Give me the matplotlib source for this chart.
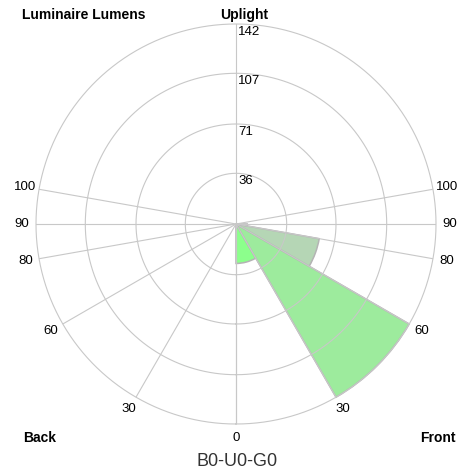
import numpy as np
import matplotlib
matplotlib.use("Agg")
import matplotlib.pyplot as plt

plt.rcParams["font.family"] = ["Liberation Sans", "DejaVu Sans"]

W, H = 463, 474
OUT = "out.png"

# BUG zones: (start deg, end deg) measured from nadir, front positive, back negative
zone_names = ["FL", "FM", "FH", "FVH", "BL", "BM", "BH", "BVH", "UL", "UH"]
zone_start = [0, 30, 60, 80, 0, -30, -60, -80, 90, 100]
zone_end = [30, 60, 80, 90, -30, -60, -80, -90, 100, 180]
zone_lumens = [28, 142, 60, 8, 0, 0, 0, 0, 0, 0]
zone_colors = ["#8cff8c", "#9deb9d", "#b5d6b5", "#b5d6b5",
               "#8cff8c", "#9deb9d", "#b5d6b5", "#b5d6b5",
               "#b5d6b5", "#b5d6b5"]

ring_values = [36, 71, 107, 142]
angle_ticks = [0, 30, 60, 80, 90, 100]
r_max = 142


def px(x, y):
    return x / W, 1 - y / H


fig = plt.figure(figsize=(W / 100, H / 100), dpi=100)
cx, cy, R = 236, 224, 200
ax = fig.add_axes([(cx - R) / W, (H - cy - R) / H, 2 * R / W, 2 * R / H],
                  projection="polar")
ax.set_theta_zero_location("S")
ax.set_theta_direction(1)
ax.set_ylim(0, r_max)
ax.axis("off")

# zone wedges
for s, e, v, c in zip(zone_start, zone_end, zone_lumens, zone_colors):
    if v <= 0:
        continue
    t0, t1 = np.deg2rad(min(s, e)), np.deg2rad(max(s, e))
    ax.bar((t0 + t1) / 2, v, width=t1 - t0, bottom=0, color=c,
           edgecolor="#b4b4b4", lw=1.1, zorder=2, clip_on=False)

# rings and spokes
grid_c = "#c8c8c8"
th = np.linspace(0, 2 * np.pi, 721)
for r in ring_values:
    ax.plot(th, np.full_like(th, r), color=grid_c, lw=0.8, zorder=3, clip_on=False)
for a in angle_ticks:
    for sgn in (1, -1):
        ax.plot([0, np.deg2rad(sgn * a)], [0, r_max], color=grid_c, lw=0.8, zorder=3)
ax.plot([0, np.pi], [0, r_max], color=grid_c, lw=0.8, zorder=3)

# ring value labels along the uplight spoke
for r in ring_values:
    ax.annotate(str(r), xy=(np.pi, r), xytext=(1.5, -1.5), textcoords="offset points",
                ha="left", va="top", fontsize=9.5, color="black", zorder=5)

# angle labels
for a in angle_ticks:
    for sgn in (1, -1):
        if a == 0 and sgn < 0:
            continue
        ax.text(np.deg2rad(sgn * a), r_max * 1.07, str(a), ha="center", va="center",
                fontsize=9.5, clip_on=False)

fig.text(*px(22, 15), "Luminaire Lumens", ha="left", va="center",
         fontsize=10, weight="bold")
fig.text(*px(244, 15), "Uplight", ha="center", va="center", fontsize=10, weight="bold")
fig.text(*px(23, 438), "Back", ha="left", va="center", fontsize=10, weight="bold")
fig.text(*px(456, 438), "Front", ha="right", va="center", fontsize=10, weight="bold")
fig.text(*px(237, 462), "B0-U0-G0", ha="center", va="center", fontsize=13,
         color="#333333")

fig.savefig(OUT, dpi=100, facecolor="white")
